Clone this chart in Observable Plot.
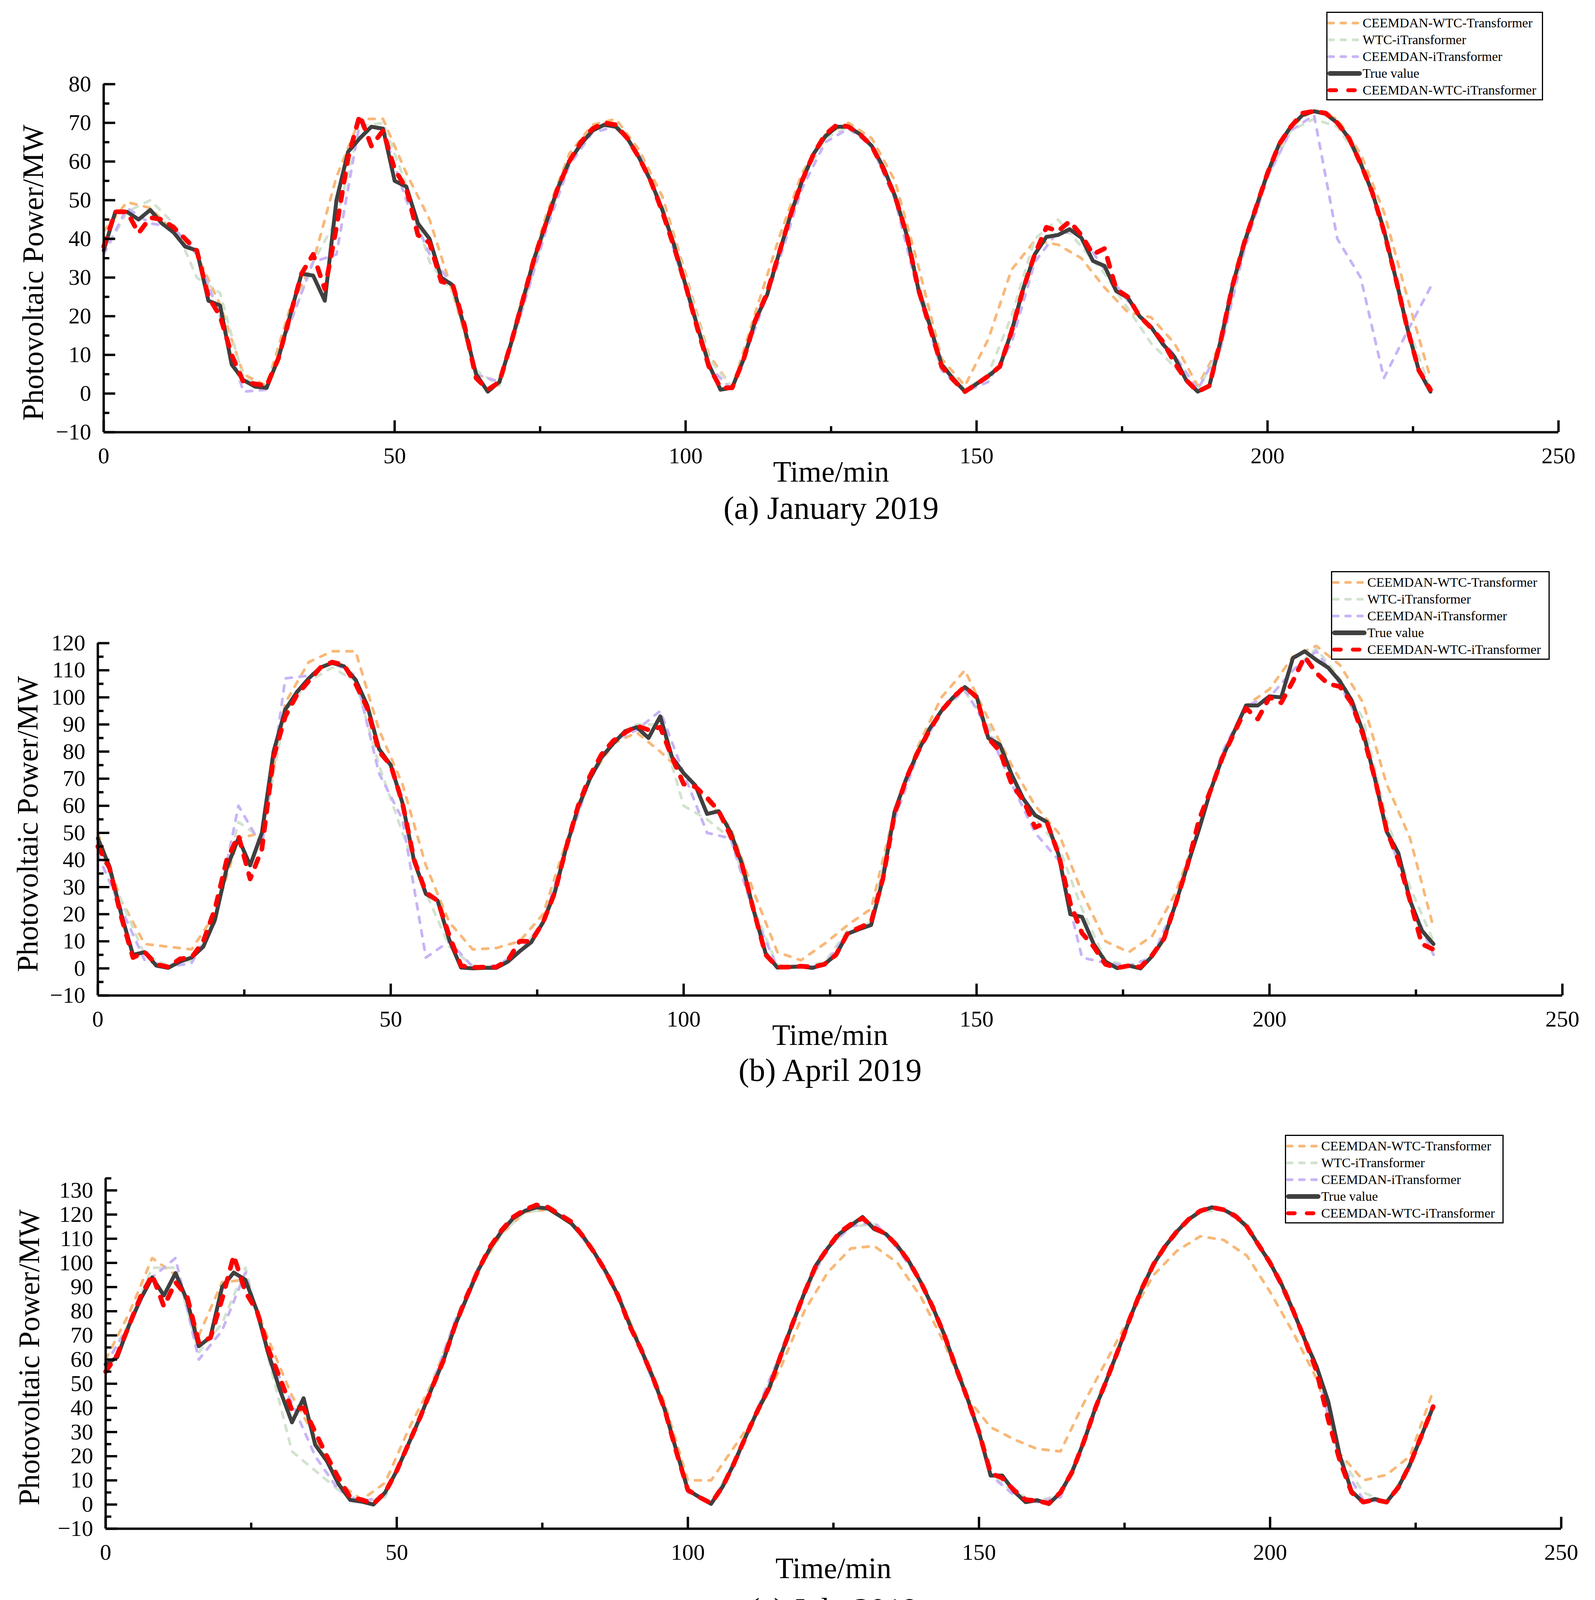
<!DOCTYPE html>
<html><head><meta charset="utf-8">
<script src="https://cdn.jsdelivr.net/npm/d3@7"></script>
<script src="https://cdn.jsdelivr.net/npm/@observablehq/plot@0.6"></script>
<style>
html,body{margin:0;padding:0;background:#fff;}
#root{position:relative;width:4084px;height:5567px;background:#fff;font-family:"Liberation Serif","Times New Roman",serif;overflow:hidden;}
.legend{position:absolute;border:3px solid #000;background:#fff;box-sizing:border-box;padding:4px 0 2px 0;}
.legend .row{display:flex;align-items:center;height:43px;font-size:34px;white-space:nowrap;color:#000;}
.legend .row span{margin-left:2px;}
</style></head><body><div id="root"></div>
<script>
// ---------- shared categories / ticks ----------
const seriesNames = ["CEEMDAN-WTC-Transformer", "WTC-iTransformer", "CEEMDAN-iTransformer", "True value", "CEEMDAN-WTC-iTransformer"];
const xMajorTicks = [0, 50, 100, 150, 200, 250];
const xMinorTicks = [25, 75, 125, 175, 225];
const fineTime = d3.range(0, 229, 2);   // minutes for True value and CEEMDAN-WTC-iTransformer
const coarseTime = d3.range(0, 229, 4); // minutes for the three comparison models

// ---------- (a) January 2019 ----------
const aYTicks = [-10, 0, 10, 20, 30, 40, 50, 60, 70, 80];
const aYMinor = [-5, 5, 15, 25, 35, 45, 55, 65, 75];
const aTrue = [37, 47, 47, 45, 47.5, 44, 41.7, 38, 37, 24,
  22.8, 7.5, 3.5, 1.8, 1.5, 9, 20, 31, 30.5, 24,
  50, 62.5, 66, 69, 68.5, 55, 53.5, 44, 40, 30,
  28, 17, 5, 0.5, 3, 13, 24, 35, 44, 53,
  60, 64.5, 68, 69.5, 69, 66, 61, 55, 47.5, 38.5,
  28, 17.5, 7.5, 1, 1.5, 9, 19, 25.5, 36, 46,
  55, 62, 66.5, 69, 69, 67, 64, 58.5, 51, 41,
  27, 17.5, 7.5, 3.8, 0.5, 2.5, 4.5, 7, 16, 27,
  36, 40.5, 41, 42.5, 40.3, 34.3, 33, 26.5, 24.8, 20,
  17.2, 12.8, 9.5, 3.5, 0.5, 2, 14, 28, 39, 48,
  57, 64.5, 69, 72, 73, 72.3, 70, 66, 59.5, 52,
  42.3, 30, 17, 6, 0.5];
const aRed = [38, 47, 47, 41.5, 45.5, 45, 43, 40, 37, 25,
  20, 10, 3, 2.5, 2, 9, 20, 31, 36, 27,
  43, 61, 72, 64, 68, 58, 53, 41, 39, 29,
  28, 17.6, 4, 1, 3, 13, 24, 35, 44, 53,
  60, 65, 68.5, 70, 69.5, 66, 61, 55, 47, 38,
  28, 17, 7, 1.5, 1.5, 9, 19, 26, 36, 46,
  55, 62, 67, 69.5, 69, 67, 64, 58, 51, 41,
  27, 17, 7, 3.5, 0.5, 2.5, 4.5, 7, 16, 27,
  36, 43, 42, 44.5, 41, 36, 37.5, 27, 25, 20,
  17, 13.5, 8, 3.5, 0.5, 2, 14, 28, 39, 48,
  57, 64.5, 69, 72.5, 73, 72.5, 70, 66, 59.5, 52,
  42, 30, 17, 6, 1];
const aOrange = [42, 49.5, 48, 42, 36, 23, 5, 2, 22, 34,
  56, 71, 71, 57, 45, 26, 5, 3, 25, 46,
  62, 69.5, 71, 63, 51, 31, 10, 1.5, 21, 40,
  57, 67, 70, 66, 55, 33, 9, 2, 14, 32,
  39.5, 38.5, 35, 27.4, 21, 19.7, 13, 2, 13, 38,
  57, 69, 73.5, 71, 62, 47, 25, 4];
const aGreen = [36, 47, 50, 44, 30, 26, 4, 1.5, 18, 34,
  45, 69, 70, 54, 34, 26, 6, 2, 22, 43,
  60, 68, 70, 62, 49, 30, 9, 1.5, 18, 36,
  55, 66, 69, 64, 52, 29, 8, 1, 5, 20,
  40, 45, 38, 31, 22, 13, 7, 1, 12, 38,
  56, 68, 71, 69, 60, 43, 18, 1];
const aPurple = [36, 48, 44, 43, 36, 20, 0.5, 1, 18, 34,
  36, 70, 68, 50, 36, 28, 5, 3, 22, 42,
  59, 67.5, 69, 62, 47, 27, 7, 1, 17, 34,
  53, 65, 68.5, 64, 50, 26, 6, 0.5, 3, 13,
  34, 42, 41, 32, 24, 17, 10, 1, 12, 37,
  56, 68, 72, 40, 30, 4, 16, 27.5];

// ---------- (b) April 2019 ----------
const bYTicks = [-10, 0, 10, 20, 30, 40, 50, 60, 70, 80, 90, 100, 110, 120];
const bYMinor = [-5, 5, 15, 25, 35, 45, 55, 65, 75, 85, 95, 105, 115];
const bTrue = [48, 37.5, 20, 5, 6, 1, 0.2, 2.5, 4, 8,
  18, 37, 48, 38, 50, 80, 95.5, 102, 107, 111,
  112.7, 111.5, 106.5, 97, 81, 75, 61, 39.5, 27.5, 25,
  10.5, 0.3, 0, 0.2, 0.2, 2.5, 6.3, 9.7, 17, 28,
  45, 59.5, 70, 78, 83, 87.5, 89, 85, 93, 78,
  72, 67.5, 57, 58, 50.3, 38.3, 21, 5.5, 0.3, 0.5,
  0.7, 0.2, 1.5, 5, 12.8, 14.5, 16, 33, 57.8, 70,
  80, 88.5, 95, 100, 103.8, 100.4, 85, 82.5, 71.5, 62.5,
  56.5, 54, 42, 20, 19, 9, 2.5, 0.1, 1, 0,
  4.6, 11, 24, 38, 51.5, 66, 78, 87.5, 97, 97,
  100.4, 100, 114.5, 117, 113.8, 111, 106, 99, 87, 70,
  50.5, 42.5, 25, 14, 9];
const bRed = [45, 37, 19, 4, 6, 1.5, 0.5, 3.5, 4, 10,
  22, 40, 49, 33, 44, 78, 93, 101, 106, 111,
  113, 112, 105, 96, 80, 75, 61, 40, 28, 25,
  12, 1, 0.3, 0.5, 0.5, 3, 10, 10, 17, 28,
  45, 60, 71, 79, 84, 87, 89.5, 88, 89, 78,
  68, 67, 63, 58, 49, 38, 21, 5, 0.5, 0.5,
  0.8, 0.5, 1.5, 5, 13, 15, 17, 33, 57, 70,
  80, 88, 95, 100, 104, 100, 85, 80, 68, 62,
  52, 54, 42, 24, 13, 8, 1.5, 0.2, 1, 0.5,
  5, 11, 24, 38, 55, 66, 78, 87, 96, 92,
  100, 98, 106, 115, 109, 105, 104, 98, 86, 70,
  51, 40, 25, 9, 7];
const bOrange = [50, 25, 9, 8, 7, 20, 48, 50, 98, 113,
  117, 117, 88, 68, 38, 17, 7, 7.5, 10, 20,
  47, 70, 83, 87, 80, 72, 62, 52, 28, 6,
  3, 9, 16, 22, 58, 82, 100, 110, 92, 75,
  60, 50, 28, 10, 6, 12, 28, 52, 78, 97,
  103, 115, 119, 112, 98, 68, 48, 15];
const bGreen = [45, 25, 5, 1, 3, 18, 54, 48, 95, 106,
  111, 106, 75, 50, 28, 8, 1, 0.5, 6, 17,
  45, 70, 84, 90, 90, 60, 55, 48, 22, 1,
  1, 2, 14, 17, 58, 80, 96, 102, 90, 70,
  55, 45, 22, 3, 1, 4, 24, 52, 78, 97,
  100, 110, 118, 107, 92, 55, 30, 10];
const bPurple = [42, 22, 3, 0.5, 2, 17, 60, 45, 107, 108,
  113, 108, 72, 55, 4, 10, 0.5, 1, 6, 17,
  44, 70, 84, 88, 95, 72, 50, 48, 20, 0.5,
  0.5, 1, 13, 16, 55, 79, 95, 103, 88, 68,
  50, 40, 4, 2, 1, 4, 24, 53, 80, 97,
  100, 110, 117, 105, 88, 52, 25, 5];

// ---------- (c) July 2019 ----------
const cYTicks = [-10, 0, 10, 20, 30, 40, 50, 60, 70, 80, 90, 100, 110, 120, 130];
const cYMinor = [-5, 5, 15, 25, 35, 45, 55, 65, 75, 85, 95, 105, 115, 125, 135];
const cTrue = [58, 61, 74, 85, 94, 86.5, 95.8, 84.4, 65.5, 69.3,
  90, 96, 93, 80, 62, 47, 34, 44, 24.7, 18,
  8.5, 1.9, 1.2, 0, 5, 14, 25, 36, 48, 59.5,
  74, 85.5, 97, 106, 113, 118.5, 121.5, 123, 122.5, 119.5,
  116.3, 111, 104, 96, 86.5, 74.5, 64, 52.5, 39.5, 22.5,
  6, 3, 0.3, 7.5, 17.5, 28.5, 39, 48.4, 62, 75,
  87.5, 99, 106, 112, 115.5, 119, 114, 112, 107, 100.5,
  92, 82, 70.5, 57, 44, 30, 12, 12, 5.5, 1,
  1.8, 0.2, 5, 13.5, 26, 40, 52, 64.5, 77.5, 89.5,
  99.5, 107, 113, 118, 121.3, 123, 122, 119.5, 115, 107.5,
  100, 91, 80, 68, 57, 42.5, 20, 5.5, 0.9, 2.3,
  1, 7, 16.5, 28.5, 40.5];
const cRed = [55, 62, 74, 86, 95, 82, 92, 86, 67, 69,
  85, 103, 88, 80, 64, 52, 39, 40, 30, 20,
  11, 3, 2, 0.3, 5, 14, 25, 36, 48, 59.5,
  74, 86, 97, 106.5, 113.5, 119, 122, 124, 123, 120,
  117, 111, 104, 96, 86.5, 74, 64, 52.5, 39.5, 22,
  6, 3, 0.5, 7.5, 17.5, 28.5, 39, 48.5, 62, 75,
  87.5, 99, 106, 112.5, 116, 118.5, 114.5, 112, 107, 100.5,
  92, 82, 70.5, 57, 44, 30, 13, 11, 6, 2,
  1.5, 0.5, 5, 13.5, 26, 40, 52, 64.5, 77.5, 89.5,
  99.5, 107, 113, 118, 121.5, 123, 122, 119.5, 115, 107.5,
  100, 91, 80, 68, 55, 35, 18, 5, 1, 2,
  1, 7, 16.5, 28.5, 40.5];
const cOrange = [60, 79, 102, 95, 70, 92, 93, 68, 45, 28,
  9, 2, 9, 31, 50, 75, 97, 112, 121, 122,
  116, 104, 87, 65, 42, 10, 10, 24, 38, 57,
  80, 96, 106, 107, 100, 86, 67, 44, 32, 27,
  23, 22, 42, 60, 78, 95, 105, 111, 109.5, 103,
  88, 71, 52, 21, 10, 12.3, 20, 47];
const cGreen = [58, 75, 98, 98, 63, 75, 98, 60, 22, 14,
  6, 1, 3, 25, 48, 74, 97, 112, 121, 122,
  116, 104, 87, 64, 40, 6, 1, 17, 39, 62,
  87, 106, 115, 116, 107, 92, 71, 45, 13, 5,
  1.5, 4, 26, 52, 77, 99, 113, 121, 122, 116,
  101, 81, 58, 20, 5, 1, 16, 41];
const cPurple = [58, 74, 94, 102, 60, 72, 96, 62, 42, 20,
  6, 1, 4, 24, 49, 76, 98, 114, 122, 123,
  116, 104, 86, 63, 39, 5, 1, 16, 40, 63,
  88, 106, 115, 117, 106, 92, 70, 44, 12, 4,
  1, 3, 25, 52, 78, 100, 114, 122, 122, 115,
  100, 79, 56, 18, 2, 1, 15, 41];

// ---------- (d) October 2019 ----------
const dYTicks = [-10, 0, 10, 20, 30, 40, 50, 60, 70, 80, 90];
const dYMinor = [-5, 5, 15, 25, 35, 45, 55, 65, 75, 85, 95];
const dTrue = [44, 55.5, 64.5, 70.3, 75, 78, 79, 77, 73.5, 68.5,
  62, 54.5, 45, 33.5, 22, 10, 3, 0.5, 6, 12,
  19, 27.5, 36, 44, 51, 52, 62, 63.6, 64.2, 62.5,
  59, 53, 45, 36.5, 27.5, 18.5, 10, 4.5, 1.5, 2.5,
  10, 19, 30, 41, 51.3, 60, 65, 70, 74, 75.5,
  75, 71.5, 66.5, 59.5, 51.5, 42.5, 31, 18, 6.5, 2.5,
  0, 3, 7.5, 16.5, 27, 37.5, 47, 53.5, 55.5, 62,
  64, 63.8, 61.5, 57.5, 51.5, 44, 36, 26.5, 17, 8.5,
  3.7, 0.5, 2.5, 9, 17, 27, 38, 50, 59.5, 65.5,
  70, 73, 73.5, 71.5, 67.5, 61, 55.5, 47.5, 37.5, 27,
  15.5, 6.5, 1.5, 2.5, 9, 18, 27, 38, 48.5, 59.5,
  65, 69.5, 73.5, 76, 75];
const dRed = [42, 55, 64.5, 70.5, 75, 78, 79.5, 77, 73, 68,
  61.5, 54, 44.5, 33, 22, 10, 3, 1, 5.5, 12,
  19, 27.5, 36, 44, 55, 52, 66, 64, 63, 62,
  58.5, 53, 44, 36, 27, 18, 10, 4.5, 0.5, 3,
  10, 19, 30, 41, 51.5, 60, 65, 69, 74, 76,
  75, 71, 66, 59, 51, 42, 30.5, 17.5, 6.5, 2.5,
  0.5, 3, 7.5, 16.5, 27, 37.5, 47, 53.5, 55.5, 62,
  65, 64, 61, 57, 51, 43.5, 35.5, 26, 16.5, 8,
  3.5, 0.5, 2.5, 9, 17, 27, 38, 50, 59.5, 65,
  70, 73.5, 74, 71, 67, 61, 55.5, 47, 37, 26.5,
  15, 6, 1.5, 2, 9, 18, 27, 37, 48, 59,
  66, 68, 73, 76, 75];
const dOrange = [48, 67, 81, 86, 83, 70, 51, 24.5, 8.5, 8.8,
  21, 34.7, 49.7, 59, 66.5, 62, 47, 27, 13.5, 6.5,
  13, 31, 52, 70, 80.5, 81.5, 72.5, 57, 32, 10.5,
  6, 12, 26, 46, 56, 66, 65, 55.5, 41, 20,
  9.5, 7, 20, 39, 58, 73, 80, 76.5, 62.5, 44,
  22.5, 8.5, 11, 27, 50, 71, 80.5, 84];
const dGreen = [45, 64, 77, 82, 77, 66, 49, 24, 2, 6,
  20, 37, 52, 61, 65, 61, 47, 29, 10, 1,
  11, 31, 51, 66, 76, 78, 70, 55, 33, 8,
  0.5, 8, 27, 47, 56, 65, 64, 54, 36, 14,
  1, 2, 17, 38, 60, 71, 75.5, 72, 59, 40,
  17, 1, 7, 28, 49, 66, 74, 77];
const dPurple = [44, 65, 77, 80, 73, 60, 42, 19, 2, 2,
  16, 34, 52, 61, 64, 57, 42, 24, 7, 1.5,
  7, 28, 51, 67, 75, 76, 65, 48, 26, 4,
  1, 4, 25, 47, 56, 64, 61, 50, 32, 12,
  2, 1, 13, 37, 60, 71, 75, 69, 54, 34,
  13, 1.5, 4, 26, 48, 65, 73, 76];

// ---------- drawing ----------
const lineStyles = [
  {stroke: "#F8B878", strokeWidth: 7, strokeDasharray: "15,20", strokeLinecap: "round"},
  {stroke: "#D2E3CF", strokeWidth: 7, strokeDasharray: "15,20", strokeLinecap: "round"},
  {stroke: "#C8B4F6", strokeWidth: 7, strokeDasharray: "15,20", strokeLinecap: "round"},
  {stroke: "#404040", strokeWidth: 10, strokeLinejoin: "round", strokeLinecap: "round"},
  {stroke: "#FF0000", strokeWidth: 12, strokeDasharray: "22,26", strokeLinecap: "round"}
];
const legendStyles = [
  {c: "#F8B878", w: 7, d: "12,19"},
  {c: "#D2E3CF", w: 7, d: "12,19"},
  {c: "#C8B4F6", w: 7, d: "12,19"},
  {c: "#404040", w: 12, d: null},
  {c: "#FF0000", w: 10, d: "17,31"}
];

const panels = [
  {title: "(a) January 2019", yMax: 80, yTicks: aYTicks, yMinor: aYMinor, xLeft: 265, xRight: 3990, yTop: 215, yBottom: 1106, titleDy: 195, labelDx: -180, labelDy: 37, legend: [3396, 30, 555],
   series: [[coarseTime, aOrange], [coarseTime, aGreen], [coarseTime, aPurple], [fineTime, aTrue], [fineTime, aRed]]},
  {title: "(b) April 2019", yMax: 120, yTicks: bYTicks, yMinor: bYMinor, xLeft: 250, xRight: 4000, yTop: 1646, yBottom: 2548, titleDy: 192, labelDx: -179, labelDy: 12, legend: [3408, 1462, 560],
   series: [[coarseTime, bOrange], [coarseTime, bGreen], [coarseTime, bPurple], [fineTime, bTrue], [fineTime, bRed]]},
  {title: "(c) July 2019", yMax: 135, yTicks: cYTicks, yMinor: cYMinor, xLeft: 270, xRight: 3997, yTop: 3016, yBottom: 3913, titleDy: 208, labelDx: -195, labelDy: 10, legend: [3290, 2905, 560],
   series: [[coarseTime, cOrange], [coarseTime, cGreen], [coarseTime, cPurple], [fineTime, cTrue], [fineTime, cRed]]},
  {title: "(d) October 2019", yMax: 95, yTicks: dYTicks, yMinor: dYMinor, xLeft: 299, xRight: 3939, yTop: 4449, yBottom: 5293, titleDy: 205, labelDx: -174, labelDy: 4, legend: [3280, 4292, 530],
   series: [[coarseTime, dOrange], [coarseTime, dGreen], [coarseTime, dPurple], [fineTime, dTrue], [fineTime, dRed]]}
];

const root = document.getElementById("root");
const MT = 40, MB = 262;

for (const p of panels) {
  const frameW = p.xRight - p.xLeft;
  const frameH = p.yBottom - p.yTop;
  const H = MT + frameH + MB;
  const lineMarks = p.series.map(([times, vals], k) =>
    Plot.line(times.map((t, i) => ({t, v: vals[i]})), {x: "t", y: "v", ...lineStyles[k]}));
  const chart = Plot.plot({
    width: 4084,
    height: H,
    marginLeft: p.xLeft,
    marginRight: 4084 - p.xRight,
    marginTop: MT,
    marginBottom: MB,
    x: {domain: [0, 250], axis: null},
    y: {domain: [-10, p.yMax], axis: null},
    style: {fontFamily: '"Liberation Serif","Times New Roman",serif', fontSize: "58px", color: "#000", background: "transparent"},
    marks: [
      ...lineMarks,
      Plot.ruleX([0], {stroke: "#000", strokeWidth: 6}),
      Plot.ruleY([-10], {stroke: "#000", strokeWidth: 6}),
      // major ticks (pointing inward) with labels
      Plot.axisY(p.yTicks, {tickSize: -30, tickPadding: 62, strokeWidth: 6, label: null, fontSize: 58}),
      Plot.axisX(xMajorTicks, {tickSize: -30, tickPadding: 68, strokeWidth: 6, label: null, fontSize: 58}),
      // minor ticks (pointing inward), no labels
      Plot.tickY(p.yMinor, {y: d => d, stroke: "#000", strokeWidth: 6, insetRight: frameW - 15}),
      Plot.tickX(xMinorTicks, {x: d => d, stroke: "#000", strokeWidth: 6, insetTop: frameH - 15}),
      Plot.text(["Photovoltaic Power/MW"], {text: d => d, frameAnchor: "left", textAnchor: "middle", lineAnchor: "middle", dx: p.labelDx, dy: p.labelDy, rotate: -90, fontSize: 76}),
      Plot.text(["Time/min"], {text: d => d, frameAnchor: "bottom", textAnchor: "middle", lineAnchor: "middle", dy: 102, fontSize: 76}),
      Plot.text([p.title], {text: d => d, frameAnchor: "bottom", textAnchor: "middle", lineAnchor: "middle", dy: p.titleDy, fontSize: 82})
    ]
  });
  chart.style.position = "absolute";
  chart.style.left = "0px";
  chart.style.top = (p.yTop - MT) + "px";
  root.appendChild(chart);

  const lg = document.createElement("div");
  lg.className = "legend";
  lg.style.left = p.legend[0] + "px";
  lg.style.top = p.legend[1] + "px";
  lg.style.width = p.legend[2] + "px";
  lg.innerHTML = seriesNames.map((n, k) => {
    const s = legendStyles[k];
    return `<div class="row"><svg width="88" height="20" style="flex:none"><line x1="${s.w / 2}" y1="10" x2="${88 - s.w / 2}" y2="10" stroke="${s.c}" stroke-width="${s.w}" ${s.d ? `stroke-dasharray="${s.d}"` : ""} stroke-linecap="round"/></svg><span>${n}</span></div>`;
  }).join("");
  root.appendChild(lg);
}
</script></body></html>
